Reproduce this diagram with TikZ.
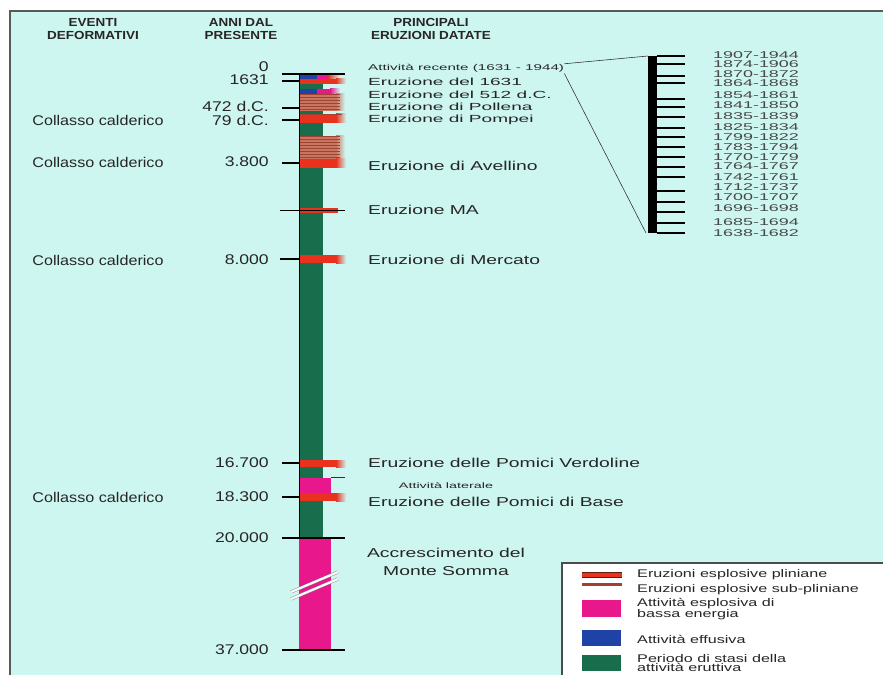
\documentclass[tikz,border=0pt]{standalone}
\usepackage{fontspec}
\setmainfont{Liberation Sans}
\newfontfamily\hdrfont[FakeStretch=1.15]{Liberation Sans}
\newfontfamily\erufont[FakeStretch=1.5]{Liberation Sans}
\newfontfamily\topfont[FakeStretch=1.85]{Liberation Sans}
\newfontfamily\numfont[FakeStretch=1.25]{Liberation Sans}
\newfontfamily\calfont[FakeStretch=1.15]{Liberation Sans}
\newfontfamily\yrfont[FakeStretch=1.82]{Liberation Sans}
\newfontfamily\smallfont[FakeStretch=1.8]{Liberation Sans}
\newfontfamily\legfont[FakeStretch=1.45]{Liberation Sans}
\definecolor{bgc}{RGB}{206,246,241}
\definecolor{stasi}{RGB}{24,110,76}
\definecolor{plin}{RGB}{232,50,30}
\definecolor{subplin}{RGB}{160,66,48}
\definecolor{subplinb}{RGB}{200,118,98}
\definecolor{bassa}{RGB}{232,24,140}
\definecolor{effus}{RGB}{30,66,165}
\definecolor{txt}{RGB}{38,38,38}
\tikzset{
	hdr/.style={font=\hdrfont\bfseries\fontsize{10}{11}\selectfont, text=txt, align=center, inner sep=0pt},
	eru/.style={font=\erufont\fontsize{11}{12}\selectfont, text=txt, anchor=west, inner sep=0pt},
	erutop/.style={font=\topfont\fontsize{8.8}{9}\selectfont, text=txt, anchor=west, inner sep=0pt},
	anni/.style={font=\numfont\fontsize{12}{12}\selectfont, text=txt, anchor=east, inner sep=0pt},
	evento/.style={font=\calfont\fontsize{12}{12}\selectfont, text=txt, inner sep=0pt},
	anno/.style={font=\yrfont\fontsize{8.4}{8}\selectfont, text=txt!85, anchor=west, inner sep=0pt},
	nota/.style={font=\smallfont\fontsize{#1}{8}\selectfont, text=txt, inner sep=0pt},
	voce/.style={font=\legfont\fontsize{9.5}{8}\selectfont, text=txt, anchor=west, align=left, inner sep=0pt},
	tacca/.style={black, line width=1pt},
	sfuma/.style={left color=#1, right color=bgc, draw=none}
}
\begin{document}
\begin{tikzpicture}[x=0.03cm, y=-0.03cm]
		\useasboundingbox (0, 0) rectangle (883, 675);
		\fill[white] (0, 0) rectangle (883, 675);
		\fill[bgc] (10, 11) rectangle (883, 675);
		\draw[black!65, line width=1.4pt] (10, 675) -- (10, 11) -- (883, 11);
		% intestazioni
		\node[hdr] (heventi) at (93, 29) {EVENTI\\DEFORMATIVI};
		\node[hdr] (hanni) at (241, 29) {ANNI DAL\\PRESENTE};
		\node[hdr] (heruz) at (431, 29) {PRINCIPALI\\ERUZIONI DATATE};
		% colonna
		\fill[stasi] (299, 74) rectangle (323, 538);
		\fill[bassa] (299, 538) rectangle (331, 650);
		\fill[bassa] (299, 478) rectangle (331, 493);
		\fill[effus] (299, 74) rectangle (317, 79);
		\fill[bassa] (317, 74) rectangle (328, 79);
		\shade[sfuma=plin] (328, 74) rectangle (340, 79);
		\fill[effus] (299, 89) rectangle (317, 94);
		\fill[bassa] (317, 89) rectangle (330, 94);
		\shade[sfuma=bassa] (330, 89) rectangle (340, 94);
		\foreach \ya/\yb in {94/111, 136/159} {
			\fill[subplinb] (299, \ya) rectangle (336, \yb);
			\shade[sfuma=subplinb] (336, \ya) rectangle (345, \yb);
		}
		\foreach \y in {94, 97, ..., 109, 136, 139, ..., 157}
			\fill[subplin] (299, \y) rectangle (340, \y+1.5);
		\foreach \ya/\yb in {79/84, 114/123, 159/168, 255/263, 460/467, 493/501} {
			\fill[plin] (299, \ya) rectangle (336, \yb);
			\shade[sfuma=plin] (336, \ya) rectangle (346, \yb);
		}
		\draw[subplin, line width=1pt] (299, 114.5) -- (342, 114.5);
		\fill[plin] (299, 207.5) rectangle (338, 212.5);
		\draw[black, line width=0.8pt] (280, 210) -- (345, 210);
		\draw[black, line width=0.8pt] (299, 74) -- (299, 538);
		% interruzione
		\draw[black!45, line width=0.4pt, double=white, double distance=1.8pt] (291, 599) -- (338, 579);
		\draw[black!45, line width=0.4pt, double=white, double distance=1.8pt] (291, 592) -- (338, 572);
		% tacche
		\draw[tacca] (282, 74) -- (345, 74);
		\foreach \y in {81, 108, 120, 163, 463, 497} \draw[tacca] (282, \y) -- (299, \y);
		\draw[tacca] (280, 259) -- (299, 259);
		\draw[tacca] (282, 538) -- (345, 538);
		\draw[tacca] (282, 650) -- (345, 650);
		\draw[black!80, line width=0.6pt] (331, 477.5) -- (345, 477.5);
		% anni dal presente
		\node[anni] (a0) at (269, 67) {0};
		\node[anni] (a1631) at (269, 80) {1631};
		\node[anni] (a472) at (269, 106) {472 d.C.};
		\node[anni] (a79) at (269, 120) {79 d.C.};
		\node[anni] (a3800) at (269, 162) {3.800};
		\node[anni] (a8000) at (269, 260) {8.000};
		\node[anni] (a16700) at (269, 463) {16.700};
		\node[anni] (a18300) at (269, 497) {18.300};
		\node[anni] (a20000) at (269, 538) {20.000};
		\node[anni] (a37000) at (269, 650) {37.000};
		% eventi deformativi
		\foreach \y [count=\k] in {120, 162, 260, 497}
			\node[evento] (coll\k) at (98, \y) {Collasso calderico};
		% eruzioni
		\node[nota=7.2, anchor=west] (recente) at (368, 68) {Attività recente (1631 - 1944)};
		\node[erutop] (e1631) at (368, 82) {Eruzione del 1631};
		\node[erutop] (e512) at (368, 95) {Eruzione del 512 d.C.};
		\node[erutop] (epollena) at (368, 107) {Eruzione di Pollena};
		\node[erutop] (epompei) at (368, 120) {Eruzione di Pompei};
		\node[eru] (eavellino) at (368, 166) {Eruzione di Avellino};
		\node[eru] (ema) at (368, 210) {Eruzione MA};
		\node[eru] (emercato) at (368, 260) {Eruzione di Mercato};
		\node[eru] (everdoline) at (368, 463) {Eruzione delle Pomici Verdoline};
		\node[nota=6.8] (laterale) at (446, 486) {Attività laterale};
		\node[eru] (ebase) at (368, 502) {Eruzione delle Pomici di Base};
		\node[eru, anchor=center, align=center, font=\erufont\fontsize{11}{15}\selectfont] (somma) at (446, 562) {Accrescimento del\\Monte Somma};
		% attivita recente
		\fill[black] (648, 56) rectangle (657, 233);
		\coordinate (bartop) at (648, 56);
		\coordinate (barbot) at (646, 233);
		\draw[black!80, line width=0.5pt] (recente.north east) -- (bartop);
		\draw[black!80, line width=0.5pt] ([yshift=-1pt]recente.south east) -- (barbot);
		\foreach \y in {56, 64, 76, 83, 99, 107, 117, 128, 137, 147, 157, 167, 177, 191, 202, 212, 223, 233}
			\draw[black, line width=1pt] (657, \y) -- (685, \y);
		\foreach \y/\t [count=\k] in {55/1907-1944, 64/1874-1906, 74/1870-1872, 83/1864-1868, 95/1854-1861, 105/1841-1850, 116/1835-1839, 127/1825-1834, 137/1799-1822, 147/1783-1794, 157/1770-1779, 166/1764-1767, 177/1742-1761, 187/1712-1737, 197/1700-1707, 208/1696-1698, 222/1685-1694, 233/1638-1682}
			\node[anno] (y\k) at (713, \y) {\t};
		% legenda
		\draw[fill=white, draw=black!70, line width=1.2pt] (562, 563) rectangle (895, 690);
		\fill[plin] (582, 572) rectangle (622, 577);
		\draw[plin!45!black, line width=0.5pt] (582, 572) -- (622, 572) (582, 577) -- (622, 577);
		\fill[subplin] (582, 583) rectangle (622, 586);
		\fill[bassa] (582, 600) rectangle (621, 617);
		\fill[effus] (582, 630) rectangle (621, 646);
		\fill[stasi] (582, 655) rectangle (621, 671);
		\node[voce] (lplin) at (637, 575) {Eruzioni esplosive pliniane};
		\node[voce] (lsub) at (637, 590) {Eruzioni esplosive sub-pliniane};
		\node[voce] (lbassa) at (637, 609) {Attività esplosiva di\\bassa energia};
		\node[voce] (leffus) at (637, 639) {Attività effusiva};
		\node[voce] (lstasi) at (637, 663) {Periodo di stasi della\\attività eruttiva};
\end{tikzpicture}
\end{document}
